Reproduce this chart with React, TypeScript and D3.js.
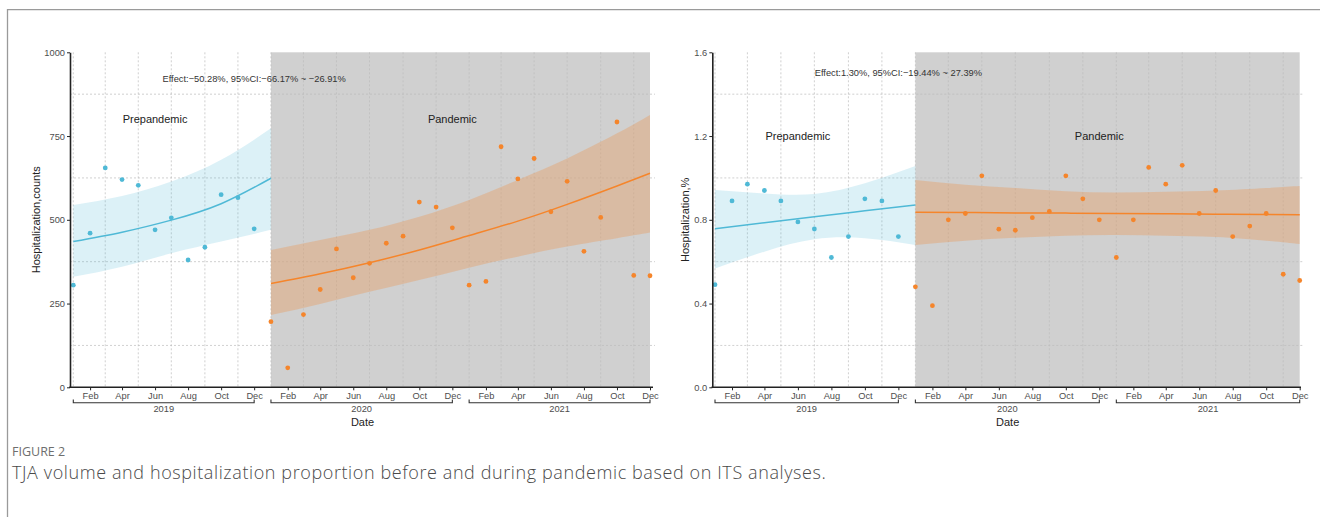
import React, { useEffect, useRef } from 'react';
import * as d3 from 'd3';

// month axis: Jan 2019 .. Dec 2021
const months = d3.utcMonth.range(new Date(Date.UTC(2019, 0, 1)), new Date(Date.UTC(2022, 0, 1)));
const years = ['2019', '2020', '2021'];

// left panel: counts
const preCounts = [305, 460, 655, 620, 603, 470, 506, 380, 418, 575, 566, 473];
const panCounts = [196, 58, 217, 292, 413, 327, 370, 430, 451, 553, 538, 476, 305, 316, 718, 622, 683, 524, 615, 406, 507, 792, 334, 333];

// fitted trend + 95% band, read at a few months
const preFitCounts = [435, 463, 499, 548, 624];
const preLowCounts = [330, 360, 400, 435, 470];
const preHighCounts = [544, 571, 614, 679, 773];

const panFitCounts = [310, 339, 372, 410, 453, 496, 546, 601, 639];
const panLowCounts = [216, 249, 285, 320, 357, 390, 420, 445, 462];
const panHighCounts = [410, 440, 470, 509, 559, 619, 683, 758, 813];

// right panel: hospitalization %
const preRatio = [0.49, 0.89, 0.97, 0.94, 0.89, 0.79, 0.756, 0.62, 0.72, 0.9, 0.89, 0.72];
const panRatio = [0.48, 0.39, 0.8, 0.83, 1.01, 0.755, 0.75, 0.81, 0.84, 1.01, 0.9, 0.8, 0.62, 0.8, 1.05, 0.97, 1.06, 0.83, 0.94, 0.72, 0.77, 0.83, 0.54, 0.51];

const preFitRatio = [0.757, 0.786, 0.814, 0.843, 0.871];
const preLowRatio = [0.568, 0.648, 0.707, 0.712, 0.68];
const preHighRatio = [0.942, 0.926, 0.923, 0.974, 1.057];

const panFitRatio = [0.836, 0.835, 0.833, 0.832, 0.83, 0.829, 0.827, 0.825, 0.824];
const panLowRatio = [0.68, 0.7, 0.714, 0.724, 0.727, 0.724, 0.718, 0.7, 0.684];
const panHighRatio = [0.99, 0.968, 0.952, 0.936, 0.93, 0.934, 0.94, 0.952, 0.961];

// month indices where the fit values above were read
const preFitMonths = [0, 3, 6, 9, 12];
const panFitMonths = [12, 15, 18, 21, 24, 27, 30, 33, 35];

const countTicks = [0, 250, 500, 750, 1000];
const countGrid = [125, 375, 625, 875];
const ratioTicks = [0, 0.4, 0.8, 1.2, 1.6];
const ratioGrid = [0.2, 0.6, 1.0, 1.4];

const FONT = '"Liberation Sans", Arial, sans-serif';
const BLUE = '#4fb9d6';
const ORANGE = '#f5852b';

interface Panel {
  axisX: number;
  first: number;
  last: number;
  panelRight: number;
  yMax: number;
  yTicks: number[];
  yGrid: number[];
  yFormat: (v: number) => string;
  yLabel: string;
  yLabelX: number;
  pre: number[];
  pan: number[];
  preFit: number[];
  preLow: number[];
  preHigh: number[];
  panFit: number[];
  panLow: number[];
  panHigh: number[];
  effect: string;
  effectAt: number;
  phaseAt: number;
}

const panels: Panel[] = [
  {
    axisX: 70, first: 73.3, last: 650, panelRight: 655,
    yMax: 1000, yTicks: countTicks, yGrid: countGrid, yFormat: d3.format('d'),
    yLabel: 'Hospitalization,counts', yLabelX: 36,
    pre: preCounts, pan: panCounts,
    preFit: preFitCounts, preLow: preLowCounts, preHigh: preHighCounts,
    panFit: panFitCounts, panLow: panLowCounts, panHigh: panHighCounts,
    effect: 'Effect:\u221250.28%, 95%CI:\u221266.17% ~ \u221226.91%', effectAt: 920, phaseAt: 800,
  },
  {
    axisX: 712.3, first: 715, last: 1299.7, panelRight: 1303,
    yMax: 1.6, yTicks: ratioTicks, yGrid: ratioGrid, yFormat: d3.format('.1f'),
    yLabel: 'Hospitalization,%', yLabelX: 685,
    pre: preRatio, pan: panRatio,
    preFit: preFitRatio, preLow: preLowRatio, preHigh: preHighRatio,
    panFit: panFitRatio, panLow: panLowRatio, panHigh: panHighRatio,
    effect: 'Effect:1.30%, 95%CI:\u221219.44% ~ 27.39%', effectAt: 1.5, phaseAt: 1.2,
  },
];

const TOP = 52.3;
const BOTTOM = 387.3;

function drawPanel(root: d3.Selection<SVGGElement, unknown, null, undefined>, p: Panel) {
  const x = d3.scaleUtc().domain([months[0], months[35]]).range([p.first, p.last]);
  const y = d3.scaleLinear().domain([0, p.yMax]).range([BOTTOM, TOP]);
  const g = root.append('g');

  // pandemic shading
  g.append('rect')
    .attr('x', x(months[12]))
    .attr('y', TOP)
    .attr('width', x(months[35]) - x(months[12]))
    .attr('height', BOTTOM - TOP)
    .attr('fill', '#d0d0d0');

  // dashed grid (minor positions only)
  g.selectAll('.hgrid')
    .data(p.yGrid)
    .enter()
    .append('line')
    .attr('x1', p.axisX)
    .attr('x2', p.panelRight)
    .attr('y1', (d) => y(d))
    .attr('y2', (d) => y(d))
    .attr('stroke', '#bcbcbc')
    .attr('stroke-width', 0.7)
    .attr('stroke-dasharray', '2,2');
  g.selectAll('.vgrid')
    .data(months.filter((_, i) => i % 2 === 0))
    .enter()
    .append('line')
    .attr('x1', (d) => x(d))
    .attr('x2', (d) => x(d))
    .attr('y1', TOP)
    .attr('y2', BOTTOM)
    .attr('stroke', '#bcbcbc')
    .attr('stroke-width', 0.7)
    .attr('stroke-dasharray', '2,2');

  const band = (ms: number[], lo: number[], hi: number[]) =>
    d3
      .area<number>()
      .x((m) => x(months[m]))
      .y0((_, i) => y(lo[i]))
      .y1((_, i) => y(hi[i]))
      .curve(d3.curveNatural)(ms);
  const trend = (ms: number[], v: number[]) =>
    d3
      .line<number>()
      .x((m) => x(months[m]))
      .y((_, i) => y(v[i]))
      .curve(d3.curveNatural)(ms);

  g.append('path').attr('d', band(preFitMonths, p.preLow, p.preHigh)).attr('fill', BLUE).attr('fill-opacity', 0.2);
  g.append('path').attr('d', band(panFitMonths, p.panLow, p.panHigh)).attr('fill', ORANGE).attr('fill-opacity', 0.27);
  g.append('path').attr('d', trend(preFitMonths, p.preFit)).attr('fill', 'none').attr('stroke', BLUE).attr('stroke-width', 1.5);
  g.append('path').attr('d', trend(panFitMonths, p.panFit)).attr('fill', 'none').attr('stroke', ORANGE).attr('stroke-width', 1.5);

  g.selectAll('.pre')
    .data(p.pre)
    .enter()
    .append('circle')
    .attr('cx', (_, i) => x(months[i]))
    .attr('cy', (d) => y(d))
    .attr('r', 2.4)
    .attr('fill', BLUE);
  g.selectAll('.pan')
    .data(p.pan)
    .enter()
    .append('circle')
    .attr('cx', (_, i) => x(months[i + 12]))
    .attr('cy', (d) => y(d))
    .attr('r', 2.4)
    .attr('fill', ORANGE);

  // y axis
  const yAxis = g
    .append('g')
    .attr('transform', `translate(${p.axisX},0)`)
    .call(d3.axisLeft(y).tickValues(p.yTicks).tickFormat((d) => p.yFormat(d as number)).tickSize(3).tickPadding(2).tickSizeOuter(0));
  yAxis.select('.domain').attr('stroke', '#222').attr('stroke-width', 1.6);
  yAxis.selectAll('line').attr('stroke', '#222');
  yAxis.selectAll('text').attr('font-family', FONT).attr('font-size', 9.3).attr('fill', '#4d4d4d');

  // x axis
  const xAxis = g
    .append('g')
    .attr('transform', `translate(0,${BOTTOM})`)
    .call(
      d3
        .axisBottom(x)
        .tickValues(months.filter((_, i) => i % 2 === 1))
        .tickFormat((d) => d3.utcFormat('%b')(d as Date))
        .tickSize(3)
        .tickPadding(2)
        .tickSizeOuter(0)
    );
  xAxis.select('.domain').remove();
  xAxis.selectAll('line').attr('stroke', '#222');
  xAxis.selectAll('text').attr('font-family', FONT).attr('font-size', 9.3).attr('fill', '#4d4d4d');
  g.append('line')
    .attr('x1', p.axisX - 0.8)
    .attr('x2', p.panelRight - 2)
    .attr('y1', BOTTOM)
    .attr('y2', BOTTOM)
    .attr('stroke', '#222')
    .attr('stroke-width', 1.6);

  // year brackets
  years.forEach((yr, k) => {
    const x0 = x(months[k * 12]);
    const x1 = x(months[k * 12 + 11]);
    g.append('path')
      .attr('d', `M${x0},399.5V402.7H${x1}V399.5`)
      .attr('fill', 'none')
      .attr('stroke', '#333')
      .attr('stroke-width', 1.1);
    g.append('text')
      .attr('x', (x0 + x1) / 2)
      .attr('y', 408.3)
      .attr('dy', '0.35em')
      .attr('text-anchor', 'middle')
      .attr('font-family', FONT)
      .attr('font-size', 9.3)
      .attr('fill', '#4d4d4d')
      .text(yr);
  });

  g.append('text')
    .attr('x', (p.axisX + p.panelRight) / 2)
    .attr('y', 422)
    .attr('dy', '0.35em')
    .attr('text-anchor', 'middle')
    .attr('font-family', FONT)
    .attr('font-size', 11)
    .attr('fill', '#222')
    .text('Date');

  g.append('text')
    .attr('transform', `translate(${p.yLabelX},${(TOP + BOTTOM) / 2}) rotate(-90)`)
    .attr('dy', '0.35em')
    .attr('text-anchor', 'middle')
    .attr('font-family', FONT)
    .attr('font-size', 11)
    .attr('fill', '#222')
    .text(p.yLabel);

  // annotations
  g.append('text')
    .attr('x', x(months[11]))
    .attr('y', y(p.effectAt))
    .attr('dy', '0.35em')
    .attr('text-anchor', 'middle')
    .attr('font-family', FONT)
    .attr('font-size', 9.3)
    .attr('fill', '#333')
    .text(p.effect);
  g.append('text')
    .attr('x', x(months[5]))
    .attr('y', y(p.phaseAt))
    .attr('dy', '0.35em')
    .attr('text-anchor', 'middle')
    .attr('font-family', FONT)
    .attr('font-size', 11)
    .attr('fill', '#222')
    .text('Prepandemic');
  g.append('text')
    .attr('x', x(months[23]))
    .attr('y', y(p.phaseAt))
    .attr('dy', '0.35em')
    .attr('text-anchor', 'middle')
    .attr('font-family', FONT)
    .attr('font-size', 11)
    .attr('fill', '#222')
    .text('Pandemic');
}

const App = () => {
  const svgRef = useRef<SVGSVGElement>(null);

  useEffect(() => {
    const svg = d3.select(svgRef.current);
    svg.selectAll('*').remove();

    // figure frame (left + top edges)
    svg
      .append('path')
      .attr('d', 'M7.5,517V9.7H1320')
      .attr('fill', 'none')
      .attr('stroke', '#9a9a9a')
      .attr('stroke-width', 1.3);

    const root = svg.append('g');
    panels.forEach((p) => drawPanel(root, p));

    svg
      .append('text')
      .attr('x', 12)
      .attr('y', 455.5)
      .attr('font-family', '"Open Sans", sans-serif')
      .attr('font-size', 12.5)
      .attr('fill', '#6e6e6e')
      .text('FIGURE 2');
    svg
      .append('text')
      .attr('x', 12)
      .attr('y', 478.5)
      .attr('font-family', '"Open Sans", sans-serif')
      .attr('font-size', 18)
      .attr('font-weight', 300)
      .attr('letter-spacing', 0.6)
      .attr('fill', '#4a4a4a')
      .text('TJA volume and hospitalization proportion before and during pandemic based on ITS analyses.');
  }, [svgRef]);

  return (
    <div style={{ position: 'absolute', left: 0, top: 0 }}>
      <svg ref={svgRef} width={1320} height={517} style={{ display: 'block', background: '#fff' }} />
    </div>
  );
};

export default App;
